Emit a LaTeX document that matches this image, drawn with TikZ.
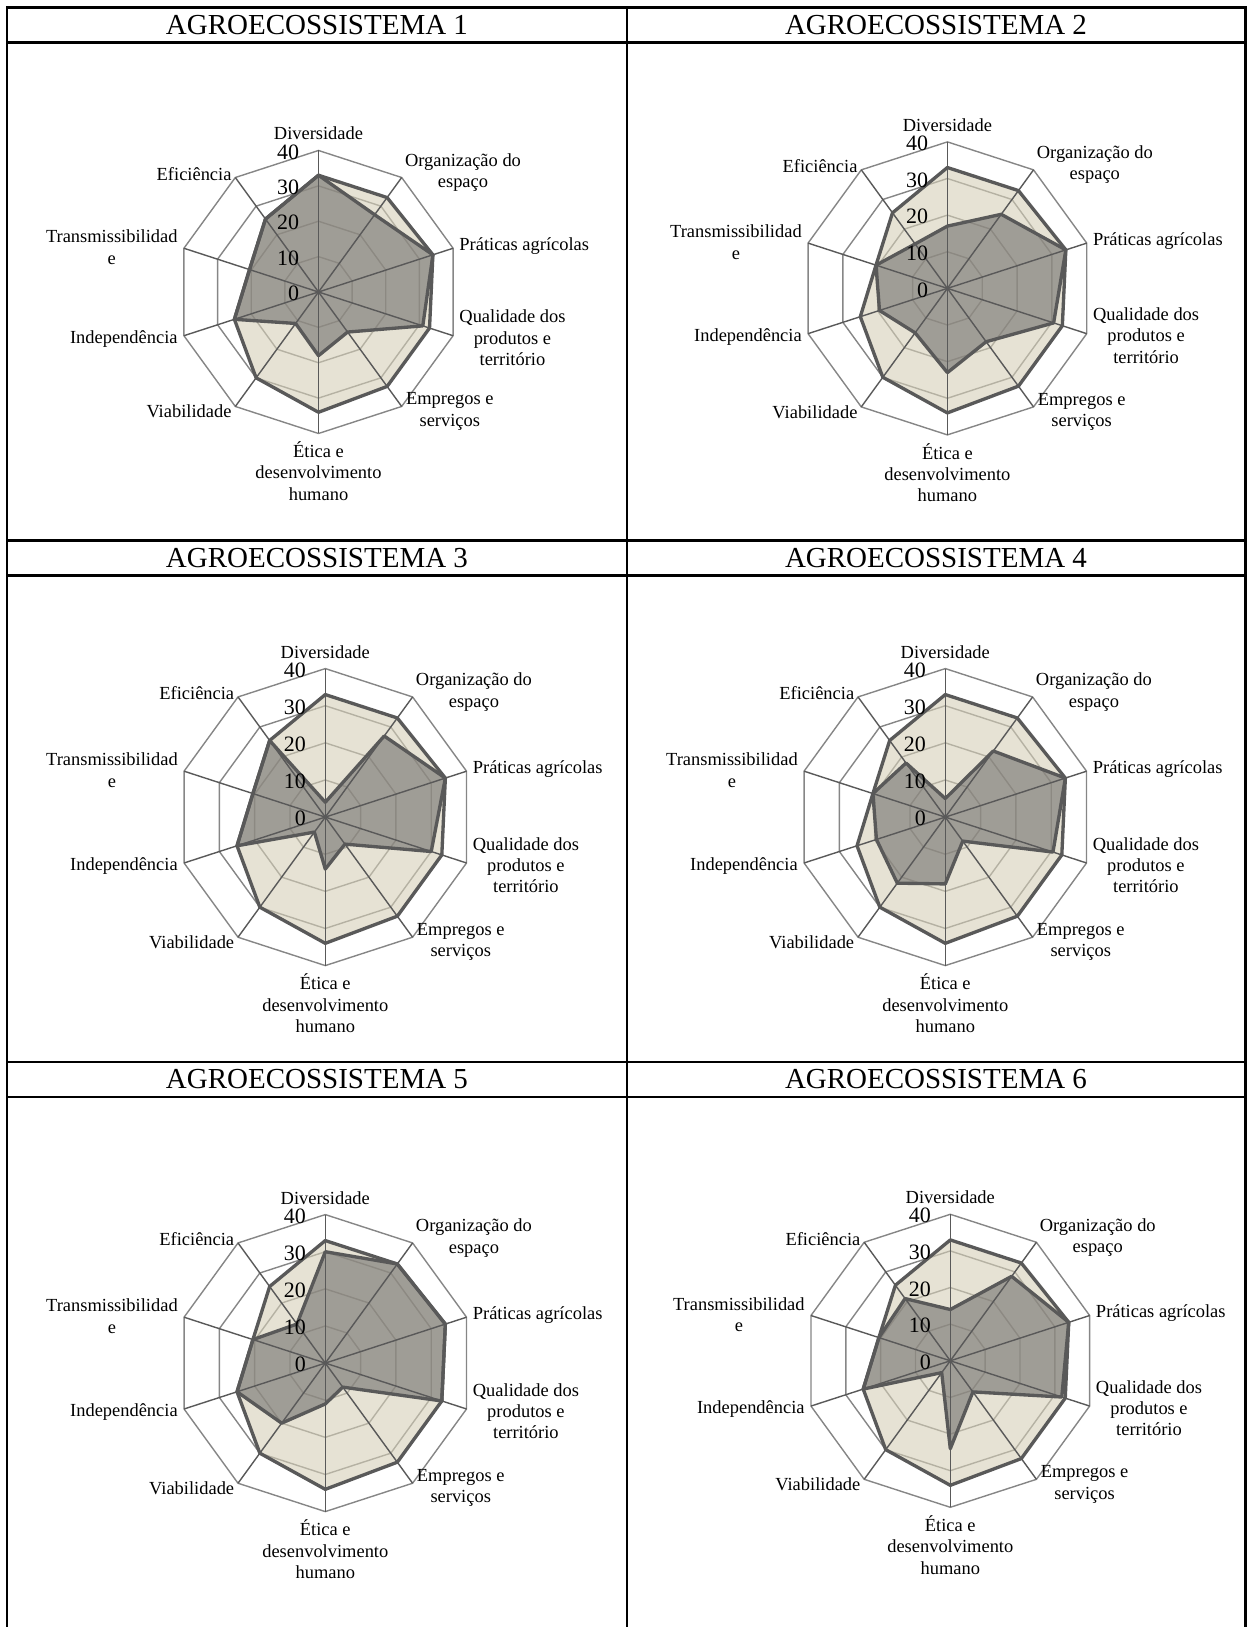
\documentclass[tikz,border=0pt]{standalone}
\usepackage{fontspec}
\setmainfont{Liberation Serif}

\definecolor{gridgray}{RGB}{134,134,134}
\definecolor{spokegray}{RGB}{89,89,89}
\definecolor{beige}{RGB}{213,207,183}
\definecolor{shade}{RGB}{113,111,109}
\definecolor{linegray}{RGB}{89,89,89}

\tikzset{
  tab/.style={line width=1.7pt},
  headtxt/.style={font=\fontsize{16.5}{19}\selectfont, inner sep=0pt},
  ring/.style={draw=gridgray, line width=0.8pt},
  spoke/.style={draw=spokegray, line width=0.8pt},
  beigefill/.style={fill=beige, fill opacity=0.6},
  shadefill/.style={fill=shade, fill opacity=0.6},
  serieline/.style={draw=linegray, line width=1.9pt, line join=round},
  lbl/.style={font=\fontsize{10.5}{12.1}\selectfont, inner sep=0pt, align=center},
  num/.style={font=\fontsize{12.5}{14}\selectfont, inner sep=0pt, anchor=east}
}

% one radar: prefix, centre x, centre y, radius, values of the dark series
\newcommand{\radarchart}[5]{%
  \begin{scope}[shift={(#2,#3)}]
    \coordinate (#1c) at (0,0);
    \foreach \i in {1,...,10}
      \coordinate (#1v\i) at ({126-36*\i}:#4);
    \foreach \v [count=\i] in {33,33,34,33,33,34,30,25,20.5,25.5}
      \coordinate (#1b\i) at ({126-36*\i}:{\v*#4/40});
    \foreach \v [count=\i] in {#5}
      \coordinate (#1g\i) at ({126-36*\i}:{\v*#4/40});
    % grid
    \foreach \k in {1,...,4}
      \draw[ring] (90:{\k*#4/4}) \foreach \i in {1,...,9} { -- ({90-36*\i}:{\k*#4/4}) } -- cycle;
    % series
    \fill[beigefill] (#1b1) \foreach \i in {2,...,10} { -- (#1b\i) } -- cycle;
    \fill[shadefill] (#1g1) \foreach \i in {2,...,10} { -- (#1g\i) } -- cycle;
    \foreach \i in {1,...,10}
      \draw[spoke] (#1c) -- (#1v\i);
    \draw[serieline] (#1b1) \foreach \i in {2,...,10} { -- (#1b\i) } -- cycle;
    \draw[serieline] (#1g1) \foreach \i in {2,...,10} { -- (#1g\i) } -- cycle;
    % scale
    \foreach \k/\t in {0/0,1/10,2/20,3/30,4/40}
      \node[num] (#1n\k) at (-19,{\k*#4/4-1.5}) {\t};
    % axis labels
    \node[lbl, anchor=south] (#1div) at ([shift={(0,10)}]#1v1) {Diversidade};
    \node[lbl, anchor=west] (#1org) at ([shift={(3,5)}]#1v2) {Organização do\\espaço};
    \node[lbl, anchor=west] (#1pra) at ([shift={(6,2)}]#1v3) {Práticas agrícolas};
    \node[lbl, anchor=west] (#1qua) at ([shift={(6,-2)}]#1v4) {Qualidade dos\\produtos e\\território};
    \node[lbl, anchor=west] (#1emp) at ([shift={(4,-5)}]#1v5) {Empregos e\\serviços};
    \node[lbl, anchor=north] (#1eti) at ([shift={(0,-8)}]#1v6) {Ética e\\desenvolvimento\\humano};
    \node[lbl, anchor=east] (#1via) at ([shift={(-3.5,-5)}]#1v7) {Viabilidade};
    \node[lbl, anchor=east] (#1ind) at ([shift={(-6,-3)}]#1v8) {Independência};
    \node[lbl, anchor=east] (#1tra) at ([shift={(-6,1)}]#1v9) {Transmissibilidad\\e};
    \node[lbl, anchor=east] (#1efi) at ([shift={(-3.5,3.5)}]#1v10) {Eficiência};
  \end{scope}}

\begin{document}
\begin{tikzpicture}[x=0.02cm, y=0.02cm]
  \useasboundingbox (0,0) rectangle (1248,1627);

  % table
  \draw[tab] (7,-10) -- (7,1619) -- (1245,1619) -- (1245,-10);
  \draw[tab] (627,-10) -- (627,1619);
  \draw[tab] (7,1584) -- (1245,1584);
  \draw[tab] (7,1086) -- (1245,1086);
  \draw[tab] (7,1051) -- (1245,1051);
  \draw[tab] (7,565) -- (1245,565);
  \draw[tab] (7,530) -- (1245,530);

  \node[headtxt] (h1) at (317,1601.5) {AGROECOSSISTEMA 1};
  \node[headtxt] (h2) at (936,1601.5) {AGROECOSSISTEMA 2};
  \node[headtxt] (h3) at (317,1068.5) {AGROECOSSISTEMA 3};
  \node[headtxt] (h4) at (936,1068.5) {AGROECOSSISTEMA 4};
  \node[headtxt] (h5) at (317,547.5) {AGROECOSSISTEMA 5};
  \node[headtxt] (h6) at (936,547.5) {AGROECOSSISTEMA 6};

  \radarchart{a}{318.5}{1335}{141.5}{33,27,34,31,14,18,11,25,20.5,25.5}
  \radarchart{b}{947.4}{1338.6}{146.5}{17,25,34,30.5,18,23,15,19.5,20.5,15}
  \radarchart{c}{325.3}{809.9}{148.5}{4,27,34,30,9,14,5,25,20.5,25.5}
  \radarchart{d}{945.3}{809.9}{148.5}{5,22,34,30.5,8,18,22,19.5,20.5,18}
  \radarchart{e}{325.3}{263.9}{148.5}{30,33,34,33,8,11,20,25,20.5,13}
  \radarchart{f}{950.3}{266.2}{146.5}{14,28.5,34,32,10.5,24,4,25,20.5,21}
\end{tikzpicture}
\end{document}
